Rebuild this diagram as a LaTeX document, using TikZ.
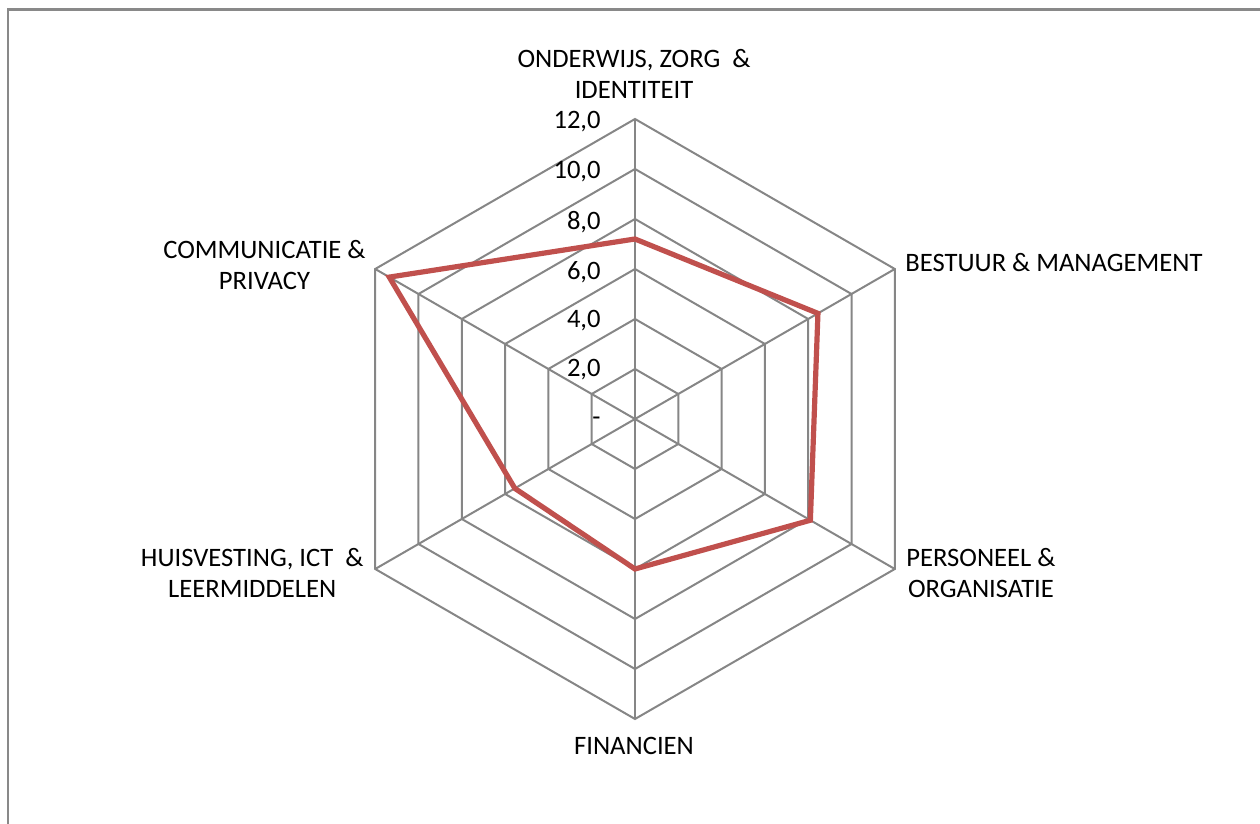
\documentclass[tikz,border=0pt]{standalone}
\usepackage{fontspec}
\setmainfont{Carlito}
\usetikzlibrary{calc}
\begin{document}
\begin{tikzpicture}[x=0.5pt,y=0.5pt,
  grid/.style={draw=gridgray,line width=1pt},
  frame/.style={draw=framegray,line width=1.1pt},
  series/.style={draw=seriesred,line width=2.6pt,line join=miter},
  lbl/.style={font=\fontsize{13.3}{15.9}\selectfont,text=black,inner sep=0pt,align=center},
  tick/.style={font=\fontsize{13.3}{15}\selectfont,text=black,inner sep=0pt,anchor=east}]
\definecolor{gridgray}{HTML}{868686}
\definecolor{framegray}{HTML}{898989}
\definecolor{seriesred}{HTML}{C0504D}
\useasboundingbox (0,0) rectangle (1260,824);
\begin{scope}
\clip (0,0) rectangle (1260,824);
\draw[frame] (8,-20) -- (8,814.5) -- (1280,814.5);
\end{scope}
\coordinate (c) at (635,405);
% spokes
\foreach \k in {0,...,5}{
  \coordinate (v\k) at ($(c)+({90-60*\k}:300)$);
  \draw[grid] (c) -- (v\k);
}
% rings
\foreach \r in {1,...,6}{
  \draw[grid] ($(c)+(90:{50*\r})$) -- ($(c)+(30:{50*\r})$) -- ($(c)+(-30:{50*\r})$)
   -- ($(c)+(-90:{50*\r})$) -- ($(c)+(-150:{50*\r})$) -- ($(c)+(150:{50*\r})$) -- cycle;
}
% tick labels
\node[tick] (t0) at (601,403) {-};
\node[tick] (t2) at (601,454) {2,0};
\node[tick] (t4) at (601,503) {4,0};
\node[tick] (t6) at (601,552) {6,0};
\node[tick] (t8) at (601,602) {8,0};
\node[tick] (t10) at (601,652) {10,0};
\node[tick] (t12) at (601,702) {12,0};
% data
\coordinate (d0) at ($(c)+(90:{7.2*25})$);
\coordinate (d1) at ($(c)+(30:{8.45*25})$);
\coordinate (d2) at ($(c)+(-30:{8.1*25})$);
\coordinate (d3) at ($(c)+(-90:{6.0*25})$);
\coordinate (d4) at ($(c)+(-150:{5.55*25})$);
\coordinate (d5) at ($(c)+(150:{11.35*25})$);
\draw[series] (d0) -- (d1) -- (d2) -- (d3) -- (d4) -- (d5) -- cycle;
% category labels
\node[lbl] (l0) at (634,750) {ONDERWIJS, ZORG\ \ \&\\IDENTITEIT};
\node[lbl,anchor=west] (l1) at (905,561) {BESTUUR \& MANAGEMENT};
\node[lbl,anchor=west] (l2) at (906,251) {PERSONEEL \&\\ORGANISATIE};
\node[lbl] (l3) at (634,78) {FINANCIEN};
\node[lbl,anchor=east] (l4) at (364,251) {HUISVESTING, ICT\ \ \&\\LEERMIDDELEN};
\node[lbl,anchor=east] (l5) at (366,559) {COMMUNICATIE \&\\PRIVACY};
\end{tikzpicture}
\end{document}
